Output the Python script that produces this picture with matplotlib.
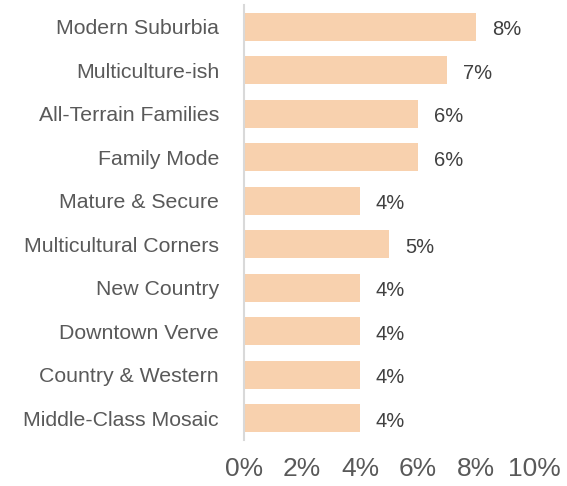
import matplotlib as mpl
mpl.use("Agg")
import matplotlib.pyplot as plt

mpl.rcParams["font.family"] = ["Liberation Sans", "DejaVu Sans"]

# data
segments = ["Modern Suburbia", "Multiculture-ish", "All-Terrain Families",
            "Family Mode", "Mature & Secure", "Multicultural Corners",
            "New Country", "Downtown Verve", "Country & Western",
            "Middle-Class Mosaic"]
shares = [8, 7, 6, 6, 4, 5, 4, 4, 4, 4]
xticks = [0, 2, 4, 6, 8, 10]

bar_color = '#F8D1AE'
text_color = '#595959'
label_color = '#404040'

fig = plt.figure(figsize=(5.67, 4.86), dpi=100)
ax = fig.add_axes([244/567, 1 - 440/486, 290/567, 435/486])

ypos = list(range(len(segments)))
ax.barh(ypos, shares, height=0.65, color=bar_color, edgecolor='none')

for y, v in zip(ypos, shares):
    ax.text(v + 0.55, y + 0.07, "{}%".format(v), va='center', ha='left',
            fontsize=14.5, color=label_color)

ax.set_ylim(len(segments) - 0.5, -0.5)
ax.set_xlim(0, 10)
ax.set_yticks(ypos)
ax.set_yticklabels(segments, fontsize=15.3, color=text_color)
ax.set_xticks(xticks)
ax.set_xticklabels(["{}%".format(t) for t in xticks], fontsize=19, color=text_color)

ax.tick_params(axis='y', length=0, pad=18)
ax.tick_params(axis='x', length=0, pad=12)

for s in ['top', 'right', 'bottom']:
    ax.spines[s].set_visible(False)
ax.spines['left'].set_color('#D9D9D9')
ax.spines['left'].set_linewidth(1.5)

fig.savefig('out.png', dpi=100)
